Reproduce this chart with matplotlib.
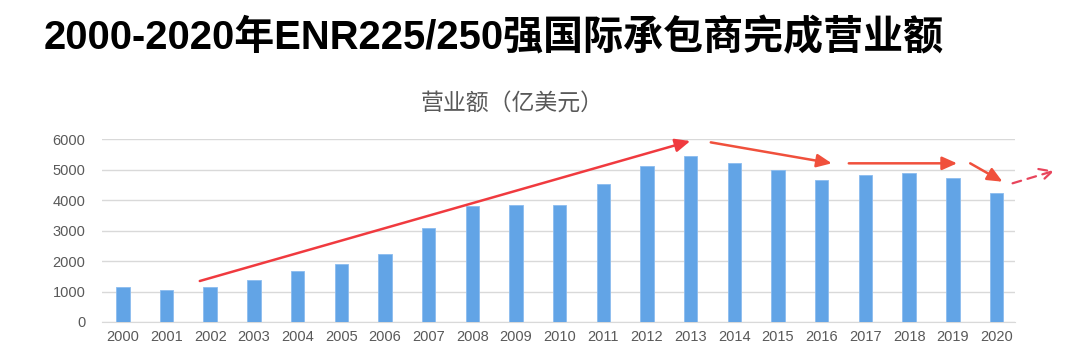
import matplotlib
matplotlib.use("Agg")
import matplotlib.pyplot as plt

plt.rcParams['font.family'] = ['Noto Sans CJK SC', 'DejaVu Sans']

years = [str(y) for y in range(2000, 2021)]
revenue = [1140, 1050, 1160, 1380, 1660, 1890, 2230, 3090, 3810, 3830, 3830,
           4540, 5100, 5440, 5210, 5000, 4670, 4820, 4870, 4730, 4240]
yticks = [0, 1000, 2000, 3000, 4000, 5000, 6000]

# trend arrows (start x, start y, end x, end y) in data units
trend_arrows = [
    (1.76, 1344, 12.99, 5934),
    (13.46, 5890, 16.23, 5203),
    (16.62, 5203, 19.10, 5203),
    (19.40, 5203, 20.14, 4600),
]
forecast_arrow = (20.37, 4548, 21.33, 4961)

fig = plt.figure(figsize=(10.8, 3.54), dpi=100)
ax = fig.add_axes([0.0944, 0.0904, 0.8456, 0.5169])

x = list(range(len(years)))
ax.bar(x, revenue, width=0.31, color='#62A4E6', edgecolor='#8BBCEF', linewidth=0.6, zorder=3)

ax.set_ylim(0, 6000)
ax.set_xlim(-0.48, 20.43)
ax.set_yticks(yticks)
ax.set_xticks(x)
ax.set_xticklabels(years)
ax.grid(axis='y', color='#D9D9D9', linewidth=1.0, zorder=0)
for s in ['top', 'right', 'left']:
    ax.spines[s].set_visible(False)
ax.spines['bottom'].set_color('#D9D9D9')
ax.tick_params(axis='both', length=0, labelsize=10.5, colors='#595959')
ax.tick_params(axis='y', pad=12)
ax.tick_params(axis='x', pad=6)
for lab in ax.get_xticklabels() + ax.get_yticklabels():
    lab.set_fontfamily(['Liberation Sans', 'DejaVu Sans'])

colors = ['#F03A3F', '#F0503C', '#F0503C', '#F0503C']
for (x0, y0, x1, y1), c in zip(trend_arrows, colors):
    ax.annotate('', xy=(x1, y1), xytext=(x0, y0), annotation_clip=False,
                arrowprops=dict(arrowstyle='-|>,head_length=0.9,head_width=0.4',
                                color=c, lw=1.8, shrinkA=0, shrinkB=0), zorder=5)
x0, y0, x1, y1 = forecast_arrow
ax.annotate('', xy=(x1, y1), xytext=(x0, y0), annotation_clip=False,
            arrowprops=dict(arrowstyle='->,head_length=0.9,head_width=0.45',
                            color='#E8455C', lw=1.6, linestyle=(0, (4, 3)),
                            shrinkA=0, shrinkB=0), zorder=5)

fig.text(0.040, 0.893, '2000-2020年ENR225/250强国际承包商完成营业额',
         fontsize=28.8, fontweight='bold', color='#000000', va='center', ha='left',
         family=['Liberation Sans', 'Noto Sans CJK SC'])
fig.text(0.474, 0.708, '营业额（亿美元）', fontsize=16.5, color='#595959',
         va='center', ha='center')

fig.savefig('out.png', dpi=100)
